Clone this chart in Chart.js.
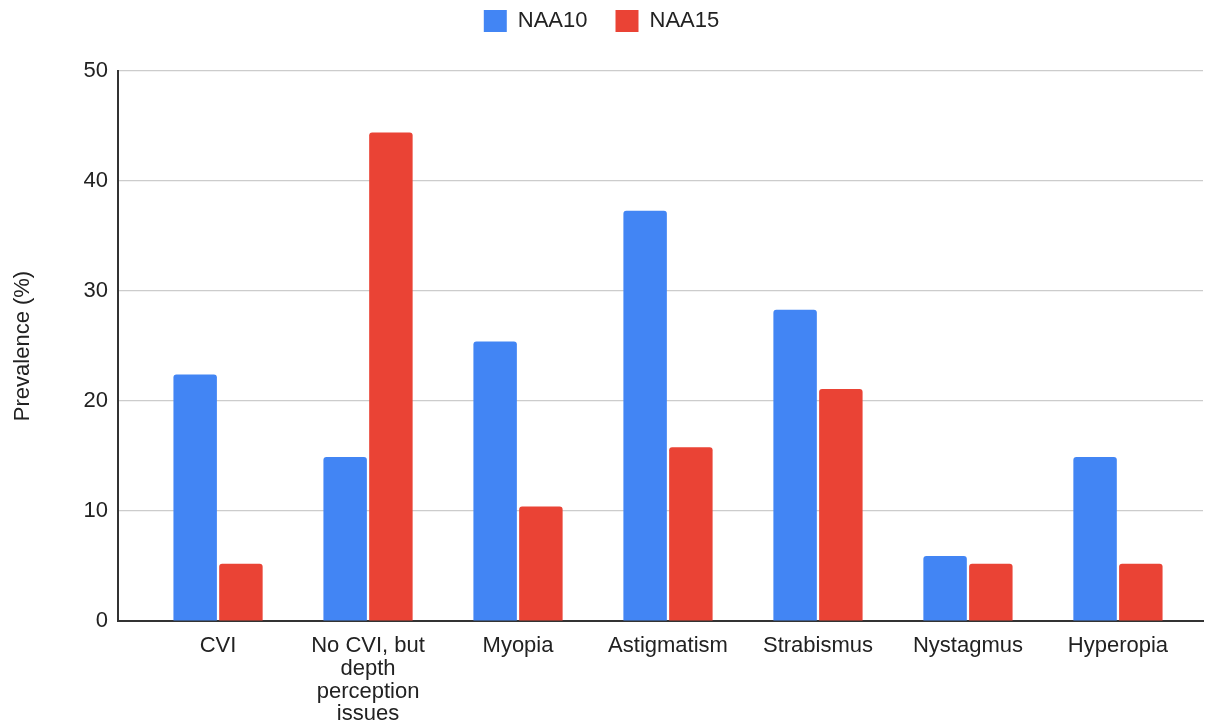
<!DOCTYPE html>
<html><head><meta charset="utf-8">
<script src="https://cdn.jsdelivr.net/npm/chart.js@4"></script>
<style>html,body{margin:0;padding:0;background:#fff}#wrap{width:1207px;height:723px}</style>
</head><body><div id="wrap"><canvas id="c"></canvas></div>
<script>
const categories = ["CVI", ["No CVI, but","depth","perception","issues"], "Myopia", "Astigmatism", "Strabismus", "Nystagmus", "Hyperopia"];
const naa10 = [22.4, 14.9, 25.4, 37.3, 28.3, 5.9, 14.9];
const naa15 = [5.2, 44.4, 10.4, 15.8, 21.1, 5.2, 5.2];
const yTicks = [0, 10, 20, 30, 40, 50];

Chart.defaults.font.family = "Arial, 'Liberation Sans', sans-serif";
Chart.defaults.color = "#222";
const toPts = arr => arr.map((v, i) => ({x: i, y: v}));
new Chart(document.getElementById('c'), {
  type: 'bar',
  data: {
    datasets: [
      {label: 'NAA10', data: toPts(naa10), backgroundColor: '#4285F4', borderRadius: {topLeft: 3, topRight: 3}, borderSkipped: 'bottom'},
      {label: 'NAA15', data: toPts(naa15), backgroundColor: '#EA4335', borderRadius: {topLeft: 3, topRight: 3}, borderSkipped: 'bottom'}
    ]
  },
  options: {
    responsive: true, maintainAspectRatio: false, animation: false,
    layout: {padding: {left: 0, right: 4, top: -18, bottom: 0}},
    datasets: {bar: {categoryPercentage: 0.61, barPercentage: 0.95}},
    plugins: {
      legend: {
        position: 'top',
        labels: {boxWidth: 23, boxHeight: 22, padding: 28, font: {size: 22}, color: '#222'}
      },
      tooltip: {enabled: false}
    },
    scales: {
      x: {
        type: 'linear',
        offset: false,
        min: -0.667, max: 6.567,
        afterBuildTicks: s => { s.ticks = categories.map((c, i) => ({value: i})); },
        grid: {display: false, drawTicks: false},
        border: {display: true, color: '#333', width: 2},
        ticks: {
          font: {size: 22, lineHeight: 1.03}, color: '#222', maxRotation: 0, autoSkip: false, padding: 14,
          callback: v => categories[v]
        },
        afterFit: s => { s.height = 102; }
      },
      y: {
        min: 0, max: 50,
        afterBuildTicks: s => { s.ticks = yTicks.map(v => ({value: v})); },
        grid: {color: '#cccccc', lineWidth: 1.2, drawTicks: false},
        border: {display: true, color: '#333', width: 2},
        ticks: {font: {size: 22}, color: '#222', padding: 10},
        title: {display: true, text: 'Prevalence (%)', font: {size: 22}, color: '#222', padding: {top: 10, bottom: 0}},
        afterFit: s => { s.width = 118; }
      }
    }
  },
  plugins: [{
    id: 'legendHeight',
    afterInit(chart) {
      const lg = chart.legend;
      const f = lg.fit;
      lg.fit = function() { f.call(this); this.height = 89; };
    }
  }]
});
</script></body></html>
